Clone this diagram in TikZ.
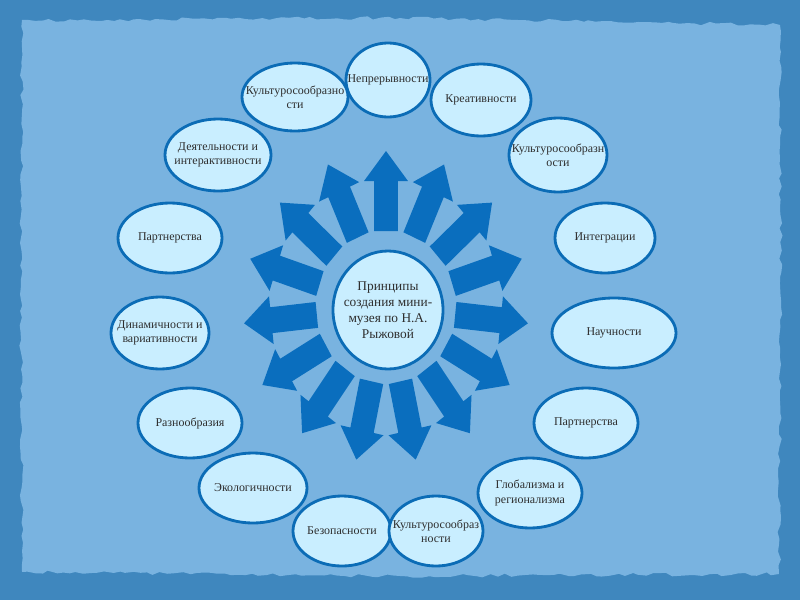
\documentclass[tikz,border=0pt]{standalone}
\usepackage{fontspec}
\setmainfont{Liberation Serif}
\usetikzlibrary{shapes.geometric,decorations.pathmorphing}
\definecolor{grund}{HTML}{3F87BE}
\definecolor{papier}{HTML}{79B3E0}
\definecolor{rand}{HTML}{0B6CB6}
\definecolor{hell}{HTML}{C9EEFF}
\definecolor{pfeilb}{HTML}{0A6EBE}
\definecolor{schrift}{HTML}{2E2E2E}
\tikzset{
  oval/.style={ellipse,draw=rand,fill=hell,line width=2pt,inner xsep=-6mm,inner ysep=-1mm,
    align=center,text=schrift,font=\fontsize{8.5}{10}\selectfont},
  mitte/.style={oval,font=\fontsize{9.5}{11.5}\selectfont},
  pfeil/.style={fill=pfeilb},
  blatt/.style={fill=papier,decorate,decoration={random steps,segment length=5pt,amplitude=1.3pt}},
}

\begin{document}
\begin{tikzpicture}[x=0.25mm,y=-0.25mm]
  \useasboundingbox (0,0) rectangle (800,600);
  \fill[grund] (0,0) rectangle (800,600);
  \fill[blatt] (22,20) -- (400,18) -- (780,25) -- (781,300) -- (779,574) -- (400,576) -- (22,572) -- (21,300) -- cycle;
  % Pfeile
  \foreach \w in {90,66,...,-246}
    \fill[pfeil,shift={(386,307)},xscale=0.915,rotate=\w]
      (76,-13) -- (126,-13) -- (126,-24) -- (156,0) -- (126,24) -- (126,13) -- (76,13) -- cycle;
  \node[mitte,minimum width=27.5mm,minimum height=29.5mm] (kern) at (388,310)
    {Принципы\\создания мини-\\музея по Н.А.\\Рыжовой};
  % Prinzipien
  \node[oval,minimum width=26.5mm,minimum height=17mm] (p15) at (295,97) {Культуросообразно\\сти};
  \node[oval,minimum width=25mm,minimum height=18mm] (p2) at (481,100) {Креативности};
  \node[oval,minimum width=21mm,minimum height=18.5mm] (p1) at (388,80) {Непрерывности};
  \node[oval,minimum width=26.5mm,minimum height=18mm] (p14) at (218,155) {Деятельности и\\интерактивности};
  \node[oval,minimum width=24.5mm,minimum height=18.5mm] (p3) at (558,155) {Культуросообразн\\ости};
  \node[oval,minimum width=26mm,minimum height=17.5mm] (p13) at (170,238) {Партнерства};
  \node[oval,minimum width=25mm,minimum height=17.5mm] (p4) at (605,238) {Интеграции};
  \node[oval,minimum width=24.5mm,minimum height=18mm] (p12) at (160,333) {Динамичности и\\вариативности};
  \node[oval,minimum width=31mm,minimum height=17.5mm] (p5) at (614,333) {Научности};
  \node[oval,minimum width=26mm,minimum height=17.5mm] (p11) at (190,423) {Разнообразия};
  \node[oval,minimum width=26mm,minimum height=17.5mm] (p6) at (586,423) {Партнерства};
  \node[oval,minimum width=27mm,minimum height=17.5mm] (p10) at (253,488) {Экологичности};
  \node[oval,minimum width=26mm,minimum height=17.5mm] (p7) at (530,493) {Глобализма и\\регионализма};
  \node[oval,minimum width=24.5mm,minimum height=17.5mm] (p9) at (342,531) {Безопасности};
  \node[oval,minimum width=23.5mm,minimum height=17.5mm] (p8) at (436,531) {Культуросообраз\\ности};
\end{tikzpicture}
\end{document}
